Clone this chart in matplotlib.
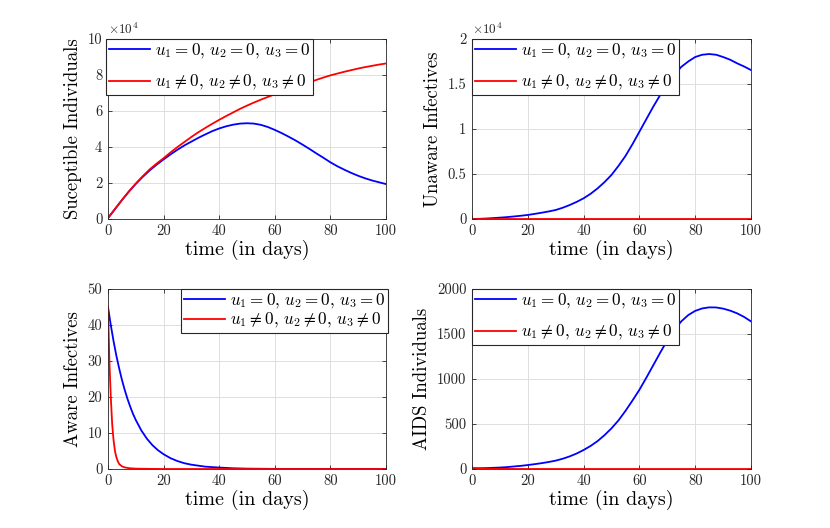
"""HIV model: compartments with and without controls (2x2 panel)."""

from matplotlib import pyplot
from matplotlib import ticker

# Values.
# Common time grid (days) for the smooth curves.
t_days = [0, 2.5, 5, 7.5, 10, 12.5, 15, 17.5, 20, 22.5, 25, 27.5, 30,
          32.5, 35, 37.5, 40, 42.5, 45, 47.5, 50, 52.5, 55, 57.5, 60,
          62.5, 65, 67.5, 70, 72.5, 75, 77.5, 80, 82.5, 85, 87.5, 90,
          92.5, 95, 97.5, 100]

# Susceptible individuals (x 10^4).
s_no_ctrl = [0.05, 0.55, 1.05, 1.52, 1.95, 2.34, 2.70, 3.02, 3.31, 3.59,
             3.85, 4.09, 4.30, 4.51, 4.70, 4.88, 5.03, 5.15, 5.24, 5.30,
             5.32, 5.30, 5.23, 5.11, 4.95, 4.77, 4.57, 4.36, 4.13, 3.89,
             3.64, 3.40, 3.15, 2.93, 2.74, 2.56, 2.40, 2.26, 2.14, 2.04,
             1.94]
s_ctrl = [0.05, 0.55, 1.05, 1.53, 1.97, 2.38, 2.76, 3.08, 3.38, 3.70,
          4.00, 4.28, 4.56, 4.82, 5.06, 5.29, 5.51, 5.72, 5.92, 6.12,
          6.30, 6.47, 6.63, 6.78, 6.93, 7.07, 7.21, 7.34, 7.47, 7.60,
          7.73, 7.86, 7.98, 8.08, 8.18, 8.27, 8.36, 8.44, 8.51, 8.58,
          8.64]

# Unaware infectives (x 10^4).
i_no_ctrl = [0.0, 0.002, 0.005, 0.01, 0.015, 0.021, 0.028, 0.036, 0.045,
             0.057, 0.07, 0.084, 0.10, 0.125, 0.155, 0.19, 0.23, 0.28,
             0.34, 0.41, 0.49, 0.59, 0.70, 0.83, 0.97, 1.11, 1.25, 1.38,
             1.50, 1.60, 1.69, 1.75, 1.80, 1.825, 1.833, 1.825, 1.80,
             1.77, 1.73, 1.695, 1.655]
i_ctrl = [0.0] * len(t_days)

# Aware infectives.
t_a = [0, 1, 2, 3, 4, 5, 6, 7, 8, 9, 10, 12, 14, 16, 18, 20, 22.5, 25,
       27.5, 30, 35, 40, 45, 50, 60, 70, 80, 100]
a_no_ctrl = [45.0, 40.0, 35.5, 31.5, 28.0, 24.8, 22.0, 19.5, 17.3, 15.3,
             13.6, 10.7, 8.4, 6.6, 5.2, 4.1, 3.0, 2.2, 1.6, 1.2, 0.65,
             0.4, 0.2, 0.1, 0.03, 0.01, 0.0, 0.0]
t_a_ctrl = [0, 0.5, 1, 1.5, 2, 2.5, 3, 3.5, 4, 5, 6, 7, 8, 10, 15, 20,
            100]
a_ctrl = [45.0, 30.0, 20.0, 12.5, 8.0, 5.0, 3.3, 2.2, 1.4, 0.75, 0.45,
          0.3, 0.2, 0.1, 0.03, 0.0, 0.0]

# AIDS individuals.
r_no_ctrl = [5, 7, 10, 13, 16, 21, 28, 35, 44, 54, 65, 78, 93, 114, 140,
             172, 211, 256, 310, 376, 452, 540, 645, 760, 880, 1015, 1155,
             1295, 1430, 1545, 1640, 1710, 1757, 1784, 1796, 1795, 1782,
             1760, 1730, 1690, 1640]
t_r_ctrl = [0, 1, 2, 3, 5, 7.5, 10, 15, 20, 100]
r_ctrl = [10, 10, 9, 7, 4, 2, 1, 0.3, 0, 0]

labels = [r'$u_1 = 0,\, u_2 = 0,\, u_3 = 0$',
          r'$u_1 \neq 0,\, u_2 \neq 0,\, u_3 \neq 0$']
ylabels = ['Suceptible Individuals', 'Unaware Infectives',
           'Aware Infectives', 'AIDS Individuals']

pyplot.rc('font', family='serif', serif=['cmr10'], size=10)
pyplot.rc('mathtext', fontset='cm')
pyplot.rc('axes', unicode_minus=False)

dark = '#262626'
W, H = 830, 528
fig = pyplot.figure(figsize=(W / 100, H / 100), dpi=100)

# Axes rectangles measured in pixels (left, top, right, bottom).
boxes = [(108, 39, 386, 219), (472, 39, 751, 219),
         (108, 289, 386, 469), (472, 289, 751, 469)]
series = [(t_days, s_no_ctrl, t_days, s_ctrl),
          (t_days, i_no_ctrl, t_days, i_ctrl),
          (t_a, a_no_ctrl, t_a_ctrl, a_ctrl),
          (t_days, r_no_ctrl, t_r_ctrl, r_ctrl)]
ylims = [(0, 10), (0, 2), (0, 50), (0, 2000)]
yticks = [[0, 2, 4, 6, 8, 10], [0, 0.5, 1, 1.5, 2],
          [0, 10, 20, 30, 40, 50], [0, 500, 1000, 1500, 2000]]
exponent = [True, True, False, False]
# Legend anchors in pixels (corner, x, y).
legend_pos = [('upper left', 106, 39), ('upper left', 472, 39),
              ('upper right', 388, 289), ('upper left', 472, 289)]
legend_spacing = [0.75, 0.75, 0.05, 0.75]

for k, (l, t, r, b) in enumerate(boxes):
    ax = fig.add_axes([l / W, 1 - b / H, (r - l) / W, (b - t) / H])
    x1, y1, x2, y2 = series[k]
    ax.plot(x1, y1, color='#0000ff', linewidth=1.3, label=labels[0])
    ax.plot(x2, y2, color='#ff0000', linewidth=1.3, label=labels[1])
    ax.set_xlim(0, 100)
    ax.set_ylim(*ylims[k])
    ax.set_xticks([0, 20, 40, 60, 80, 100])
    ax.set_yticks(yticks[k])
    ax.yaxis.set_major_formatter(ticker.FormatStrFormatter('%g'))
    ax.grid(True, color='#dfdfdf', linewidth=0.7)
    ax.set_axisbelow(True)
    ax.tick_params(direction='in', top=True, right=True, length=3,
                   width=0.6, colors=dark, labelsize=10.5, pad=4)
    for spine in ax.spines.values():
        spine.set_color(dark)
        spine.set_linewidth(0.6)
    ax.set_xlabel('time (in days)', fontsize=14.5, labelpad=1)
    ax.set_ylabel(ylabels[k], fontsize=13.5, labelpad=4)
    if exponent[k]:
        ax.text(0.0, 1.01, r'$\times 10^{4}$', transform=ax.transAxes,
                fontsize=9.5, color=dark, ha='left', va='bottom')
    loc, lx, ly = legend_pos[k]
    leg = ax.legend(loc=loc, bbox_to_anchor=(lx / W, 1 - ly / H),
                    bbox_transform=fig.transFigure, borderaxespad=0,
                    fontsize=12.3, fancybox=False, framealpha=1,
                    edgecolor=dark, handlelength=2.4, handletextpad=0.3,
                    borderpad=0.15, labelspacing=legend_spacing[k])
    leg.get_frame().set_linewidth(0.8)

fig.savefig('out.png', dpi=100)
